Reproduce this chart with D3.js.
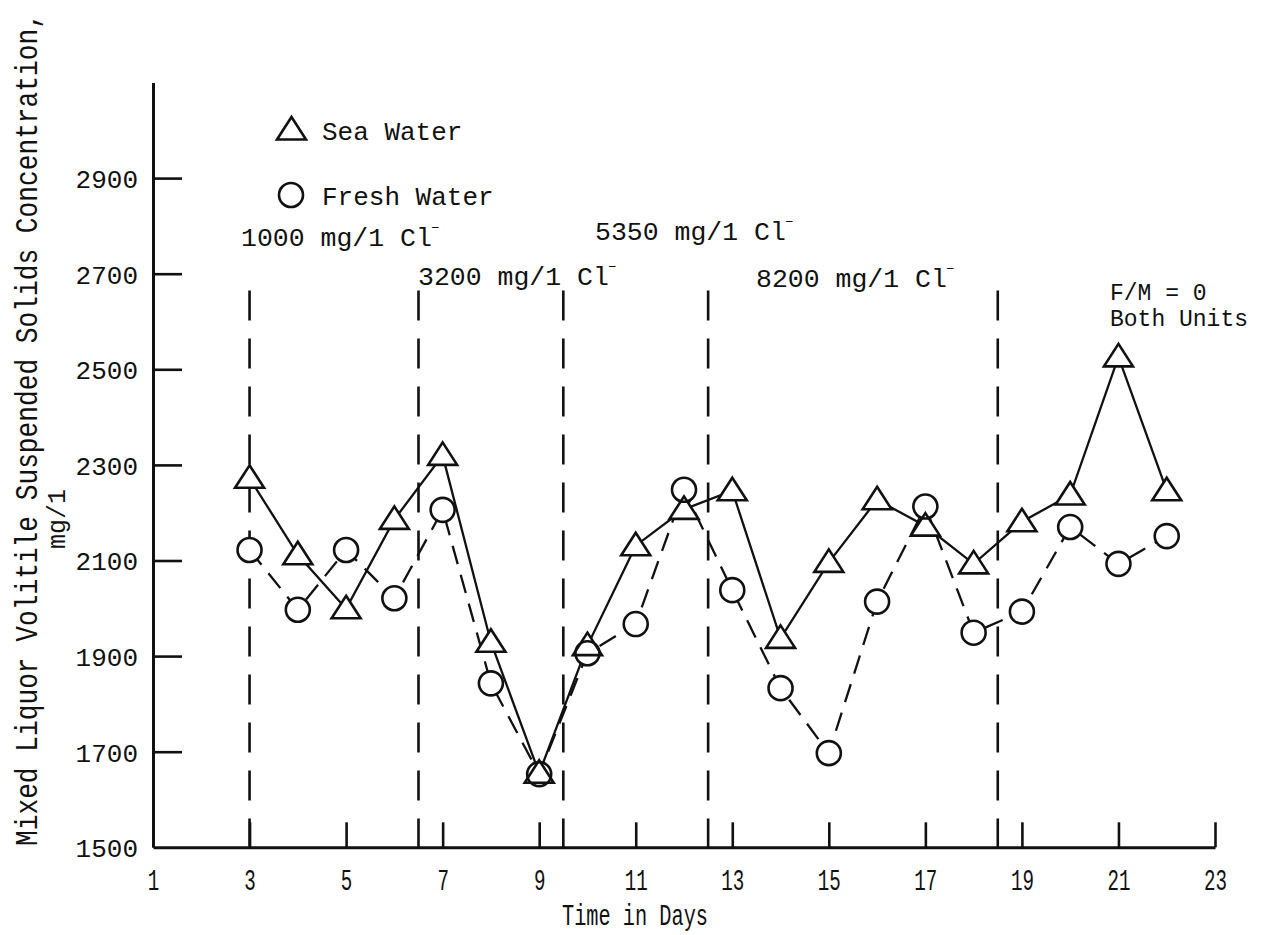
<!DOCTYPE html>
<html>
<head>
<meta charset="utf-8">
<script src="https://cdn.jsdelivr.net/npm/d3@7"></script>
<style>
  html, body { margin: 0; padding: 0; background: #ffffff; }
  svg { display: block; }
  text { font-family: "Liberation Mono", "DejaVu Sans Mono", monospace; fill: #111; }
</style>
</head>
<body>
<svg id="chart" width="1272" height="935"></svg>
<script>
// ---------------- data ----------------
const days = [3, 4, 5, 6, 7, 8, 9, 10, 11, 12, 13, 14, 15, 16, 17, 18, 19, 20, 21, 22];
const seaWater   = [2272, 2112, 1999, 2186, 2320, 1929, 1655, 1922, 2131, 2207, 2246, 1937, 2096, 2227, 2172, 2093, 2181, 2237, 2526, 2246];
const freshWater = [2122, 1997, 2122, 2021, 2206, 1843, 1653, 1906, 1967, 2248, 2038, 1833, 1697, 2014, 2213, 1949, 1993, 2170, 2093, 2151];
const xTicks = [1, 3, 5, 7, 9, 11, 13, 15, 17, 19, 21, 23];
const yTicks = [1500, 1700, 1900, 2100, 2300, 2500, 2700, 2900];
const chlorideBreaks = [3, 6.5, 9.5, 12.5, 18.5];
const chlorideLabels = ["1000 mg/1 Cl", "3200 mg/1 Cl", "5350 mg/1 Cl", "8200 mg/1 Cl"];
const seriesNames = ["Sea Water", "Fresh Water"];
const yTitle = "Mixed Liquor Volitile Suspended Solids Concentration,";
const yUnit = "mg/1";
const xTitle = "Time in Days";
const noteLines = ["F/M = 0", "Both Units"];

// ---------------- layout ----------------
const svg = d3.select("#chart");
svg.append("rect").attr("width", 1272).attr("height", 935).attr("fill", "#fff");

const x = d3.scaleLinear().domain([1, 23]).range([153, 1215]);
const y = d3.scaleLinear().domain([1500, 3100]).range([847.3, 82.5]);

const ink = "#111";

// axes
const gx = svg.append("g").attr("transform", `translate(0,${y(1500)})`)
  .call(d3.axisBottom(x).tickValues(xTicks).tickSize(-25).tickSizeOuter(0).tickFormat(d3.format("d")));
gx.select(".domain").attr("stroke", ink).attr("stroke-width", 3);
gx.selectAll(".tick line").attr("stroke", ink).attr("stroke-width", 2.6)
  .attr("display", d => d === 1 ? "none" : null);
gx.selectAll(".tick text")
  .attr("y", 43).attr("dy", 0)
  .attr("font-family", "Liberation Mono").attr("font-size", 29).attr("fill", ink)
  .attr("textLength", d => String(d).length * 11.5).attr("lengthAdjust", "spacingAndGlyphs");

const gy = svg.append("g").attr("transform", `translate(${x(1)},0)`)
  .call(d3.axisLeft(y).tickValues(yTicks).tickSize(-29).tickSizeOuter(0).tickPadding(15).tickFormat(d3.format("d")));
gy.select(".domain").attr("stroke", ink).attr("stroke-width", 3);
gy.selectAll(".tick line").attr("stroke", ink).attr("stroke-width", 2.6)
  .attr("display", d => d === 1500 ? "none" : null);
gy.selectAll(".tick text")
  .attr("font-family", "Liberation Mono").attr("font-size", 26).attr("fill", ink)
  .attr("dy", "0.36em");

// axis titles
svg.append("text")
  .attr("transform", "translate(37,846) rotate(-90) scale(1,1.18)")
  .attr("font-size", 26.2)
  .text(yTitle);
svg.append("text")
  .attr("transform", "translate(65,549) rotate(-90)")
  .attr("font-size", 25)
  .text(yUnit);
svg.append("text")
  .attr("x", 562).attr("y", 925)
  .attr("font-size", 29)
  .attr("textLength", 146).attr("lengthAdjust", "spacingAndGlyphs")
  .text(xTitle);

// vertical dashed chloride-change lines
svg.append("g").selectAll("line").data(chlorideBreaks).join("line")
  .attr("x1", d => x(d)).attr("x2", d => x(d))
  .attr("y1", y(2665)).attr("y2", y(1500))
  .attr("stroke", ink).attr("stroke-width", 2.6)
  .attr("stroke-dasharray", "30,18");

// chloride labels
const labelPos = [[241, 246], [418, 285], [595, 240], [756, 287]];
const lab = svg.append("g").selectAll("text").data(chlorideLabels).join("text")
  .attr("x", (d, i) => labelPos[i][0]).attr("y", (d, i) => labelPos[i][1])
  .attr("font-size", 26.5);
lab.append("tspan").text(d => d);
lab.append("tspan").attr("dy", -15).attr("dx", -1).attr("font-size", 15).text("\u2013");

// F/M note (one text, two lines)
const note = svg.append("text").attr("x", 1110).attr("y", 300).attr("font-size", 23);
note.selectAll("tspan").data(noteLines).join("tspan")
  .attr("x", 1110).attr("dy", (d, i) => i === 0 ? 0 : 26)
  .text(d => d);

// series lines
const line = d3.line().x((d, i) => x(days[i])).y(d => y(d));
svg.append("path").datum(freshWater).attr("d", line)
  .attr("fill", "none").attr("stroke", ink).attr("stroke-width", 2.3)
  .attr("stroke-dasharray", "19,11");
svg.append("path").datum(seaWater).attr("d", line)
  .attr("fill", "none").attr("stroke", ink).attr("stroke-width", 2.3);

// markers
const triPath = "M0,-13 L14.5,9.5 L-14.5,9.5 Z";
const R = 12;
const seaPts = seaWater.map((v, i) => [x(days[i]), y(v)]);
const freshPts = freshWater.map((v, i) => [x(days[i]), y(v)]);

// white masks under markers
const mask = svg.append("g");
mask.selectAll("path").data(seaPts).join("path")
  .attr("d", triPath).attr("transform", d => `translate(${d[0]},${d[1]})`)
  .attr("fill", "#fff");
mask.selectAll("circle").data(freshPts).join("circle")
  .attr("cx", d => d[0]).attr("cy", d => d[1]).attr("r", R).attr("fill", "#fff");

// marker outlines
const mk = svg.append("g");
mk.selectAll("path").data(seaPts).join("path")
  .attr("d", triPath).attr("transform", d => `translate(${d[0]},${d[1]})`)
  .attr("fill", "none").attr("stroke", ink).attr("stroke-width", 2.6).attr("stroke-linejoin", "miter");
mk.selectAll("circle").data(freshPts).join("circle")
  .attr("cx", d => d[0]).attr("cy", d => d[1]).attr("r", R)
  .attr("fill", "none").attr("stroke", ink).attr("stroke-width", 2.6);

// legend
const leg = svg.append("g");
leg.append("path").attr("d", triPath).attr("transform", "translate(291.5,130)")
  .attr("fill", "none").attr("stroke", ink).attr("stroke-width", 2.6);
leg.append("text").attr("x", 322).attr("y", 140).attr("font-size", 26).text(seriesNames[0]);
leg.append("circle").attr("cx", 291).attr("cy", 195).attr("r", R)
  .attr("fill", "none").attr("stroke", ink).attr("stroke-width", 2.6);
leg.append("text").attr("x", 322).attr("y", 205).attr("font-size", 26).text(seriesNames[1]);
</script>
</body>
</html>
